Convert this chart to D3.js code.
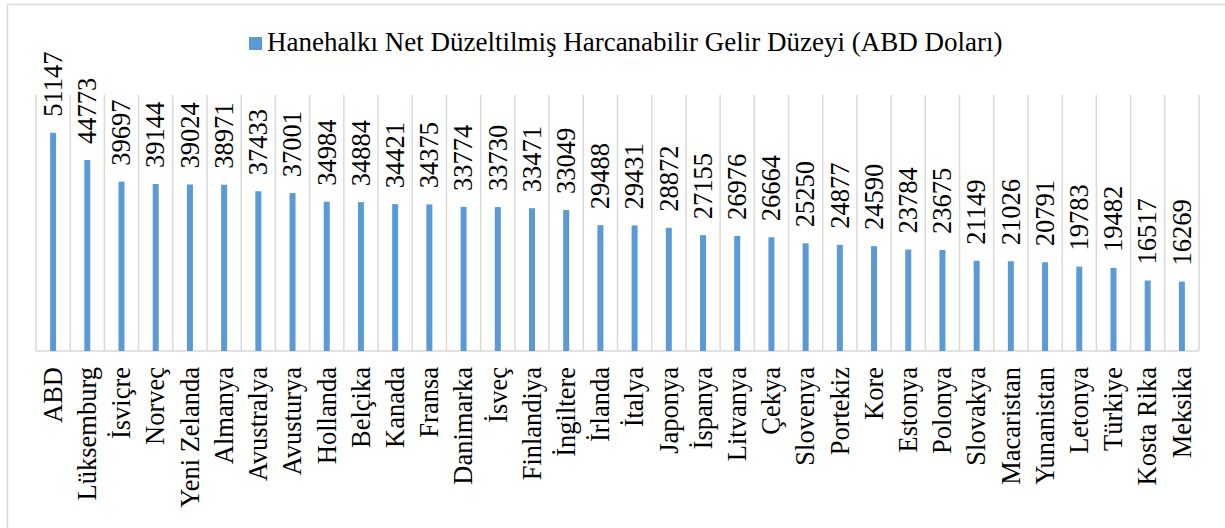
<!DOCTYPE html>
<html>
<head>
<meta charset="utf-8">
<script src="https://d3js.org/d3.v7.min.js"></script>
</head>
<body style="margin:0">
<script>

// Veriler
var ulkeler = ["ABD", "Lüksemburg", "İsviçre", "Norveç", "Yeni Zelanda", "Almanya", "Avustralya",
  "Avusturya", "Hollanda", "Belçika", "Kanada", "Fransa", "Danimarka", "İsveç", "Finlandiya",
  "İngiltere", "İrlanda", "İtalya", "Japonya", "İspanya", "Litvanya", "Çekya", "Slovenya",
  "Portekiz", "Kore", "Estonya", "Polonya", "Slovakya", "Macaristan", "Yunanistan", "Letonya",
  "Türkiye", "Kosta Rika", "Meksika"];

var gelir = [51147, 44773, 39697, 39144, 39024, 38971, 37433, 37001, 34984, 34884, 34421,
  34375, 33774, 33730, 33471, 33049, 29488, 29431, 28872, 27155, 26976, 26664, 25250,
  24877, 24590, 23784, 23675, 21149, 21026, 20791, 19783, 19482, 16517, 16269];

var seriAdi = "Hanehalkı Net Düzeltilmiş Harcanabilir Gelir Düzeyi (ABD Doları)";

var genislik = 1225,
    yukseklik = 528;

var sol = 36, sag = 1199, ust = 95, alt = 351;

var svg = d3.select("body")
  .append("svg")
    .attr("width", genislik)
    .attr("height", yukseklik)
    .attr("font-family", "Liberation Serif");

// Çerçeve (sağ ve alt kenar resmin dışında)
svg.append("rect")
  .attr("x", 7.5).attr("y", 4.5)
  .attr("width", genislik + 20).attr("height", yukseklik + 20)
  .attr("fill", "none")
  .attr("stroke", "#d9d9d9")
  .attr("stroke-width", 1.5);

var x = d3.scaleBand()
  .domain(ulkeler)
  .range([sol, sag]);

var y = d3.scaleLinear()
  .domain([0, 60000])
  .range([alt, ust]);

// Dikey kategori çizgileri
svg.selectAll("line.izgara")
  .data(d3.range(ulkeler.length + 1))
  .enter()
  .append("line")
    .attr("class", "izgara")
    .attr("x1", (i) => sol + i * x.step())
    .attr("x2", (i) => sol + i * x.step())
    .attr("y1", ust)
    .attr("y2", alt)
    .attr("stroke", "#d9d9d9")
    .attr("stroke-width", 1.5);

// Taban çizgisi
svg.append("line")
  .attr("x1", sol).attr("x2", sag)
  .attr("y1", alt).attr("y2", alt)
  .attr("stroke", "#d9d9d9")
  .attr("stroke-width", 1.5);

var veri = ulkeler.map((u, i) => ({ulke: u, deger: gelir[i]}));
var cubukGen = 6;

svg.selectAll("rect.cubuk")
  .data(veri)
  .enter()
  .append("rect")
    .attr("class", "cubuk")
    .attr("x", (d) => x(d.ulke) + x.bandwidth() / 2 - cubukGen / 2)
    .attr("y", (d) => y(d.deger))
    .attr("width", cubukGen)
    .attr("height", (d) => alt - y(d.deger))
    .attr("fill", "#5b9bd5");

// Değer etiketleri
svg.selectAll("text.deger")
  .data(veri)
  .enter()
  .append("text")
    .attr("class", "deger")
    .attr("transform", (d) => "translate(" + (x(d.ulke) + x.bandwidth() / 2) + "," + (y(d.deger) - 16) + ") rotate(-90)")
    .attr("dy", "0.33em")
    .attr("font-size", 26.5)
    .style("font-family", "'Liberation Serif'")
    .text((d) => d.deger);

// Kategori etiketleri
svg.selectAll("text.ulke")
  .data(veri)
  .enter()
  .append("text")
    .attr("class", "ulke")
    .attr("transform", (d) => "translate(" + (x(d.ulke) + x.bandwidth() / 2) + "," + (alt + 16) + ") rotate(-90)")
    .attr("text-anchor", "end")
    .attr("dy", "0.33em")
    .attr("font-size", 26.5)
    .style("font-family", "'Liberation Serif'")
    .text((d) => d.ulke);

// Gösterge
svg.append("rect")
  .attr("x", 249).attr("y", 37)
  .attr("width", 13).attr("height", 13)
  .attr("fill", "#5b9bd5");

svg.append("text")
  .attr("x", 267).attr("y", 51)
  .attr("font-size", 27)
  .style("font-family", "'Liberation Serif'")
  .text(seriAdi);

</script>
</body>
</html>
